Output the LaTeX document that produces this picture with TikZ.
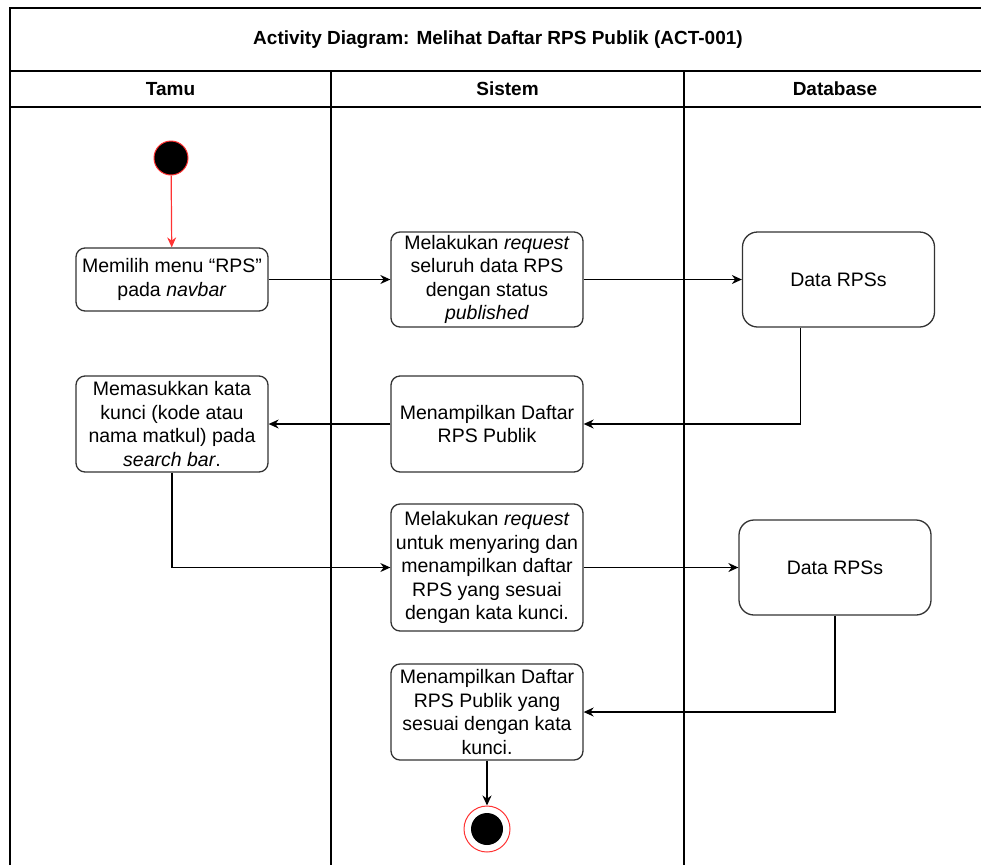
\documentclass[tikz,border=0pt]{standalone}
\usepackage{fontspec}
\setmainfont{Liberation Sans}
\usetikzlibrary{arrows.meta}
\definecolor{boxline}{HTML}{333333}
\definecolor{startred}{HTML}{FF3333}
\tikzset{
  lane/.style={line width=1.3pt,draw=black},
  act/.style={draw=boxline,line width=1.3pt,rounded corners=9pt,fill=white,align=center,
    minimum width=192pt,font=\fontsize{19.5}{23.5}\selectfont,inner sep=1pt},
  store/.style={act,rounded corners=15pt,minimum height=95pt},
  flow/.style={line width=1.2pt,-{Stealth[length=10pt,width=9pt]}},
}
\newcommand{\lanehead}[3]{\node[font=\fontsize{19}{22}\selectfont\bfseries] (#1) at (#2,89) {#3};}

\begin{document}
\begin{tikzpicture}[x=1pt,y=-1pt]
\useasboundingbox (0,0) rectangle (981,865);
% pools
\draw[lane] (10,865)--(10,8)--(990,8);
\draw[lane] (10,71)--(990,71);
\draw[lane] (10,107)--(990,107);
\draw[lane] (331,71)--(331,865);
\draw[lane] (684,71)--(684,865);
\draw[lane] (986,8)--(986,865);
\node[font=\fontsize{19}{22}\selectfont\bfseries] (title) at (498,40) {Activity Diagram: Melihat Daftar RPS Publik (ACT-001)};
\lanehead{tamu}{170.5}{Tamu}
\lanehead{sistem}{507.5}{Sistem}
\lanehead{db}{835}{Database}
% nodes
\node[circle,fill=black,draw=startred,line width=1pt,minimum size=34pt,inner sep=0pt] (start) at (171,158) {};
\node[act,minimum height=63pt] (b1) at (172,279.5) {Memilih menu “RPS”\\pada \textit{navbar}};
\node[act,minimum height=95pt] (b2) at (487,279.5) {Melakukan \textit{request}\\seluruh data RPS\\dengan status\\\textit{published}};
\node[store] (d1) at (838.5,279.5) {Data RPSs};
\node[act,minimum height=96pt] (b4) at (487,424) {Menampilkan Daftar\\RPS Publik};
\node[act,minimum height=96pt] (b5) at (172,424) {Memasukkan kata\\kunci (kode atau\\nama matkul) pada\\\textit{search bar}.};
\node[act,minimum height=127pt] (b6) at (487,567.5) {Melakukan \textit{request}\\untuk menyaring dan\\menampilkan daftar\\RPS yang sesuai\\dengan kata kunci.};
\node[store] (d2) at (835,567.5) {Data RPSs};
\node[act,minimum height=96pt] (b8) at (487,712) {Menampilkan Daftar\\RPS Publik yang\\sesuai dengan kata\\kunci.};
\node[circle,draw=startred,fill=white,line width=1pt,minimum size=46pt,inner sep=0pt] (stop) at (487,829) {};
\node[circle,fill=black,minimum size=32pt,inner sep=0pt] (stopdot) at (stop) {};
% flows
\draw[flow,draw=startred] (start) -- (b1);
\draw[flow] (b1) -- (b2);
\draw[flow] (b2) -- (d1);
\draw[flow] ([xshift=-38pt]d1.south) |- (b4.east);
\draw[flow] (b4) -- (b5);
\draw[flow] (b5.south) |- (b6.west);
\draw[flow] (b6) -- (d2);
\draw[flow] (d2.south) |- (b8.east);
\draw[flow,line width=1.8pt] (b8) -- (stop);
\end{tikzpicture}
\end{document}
